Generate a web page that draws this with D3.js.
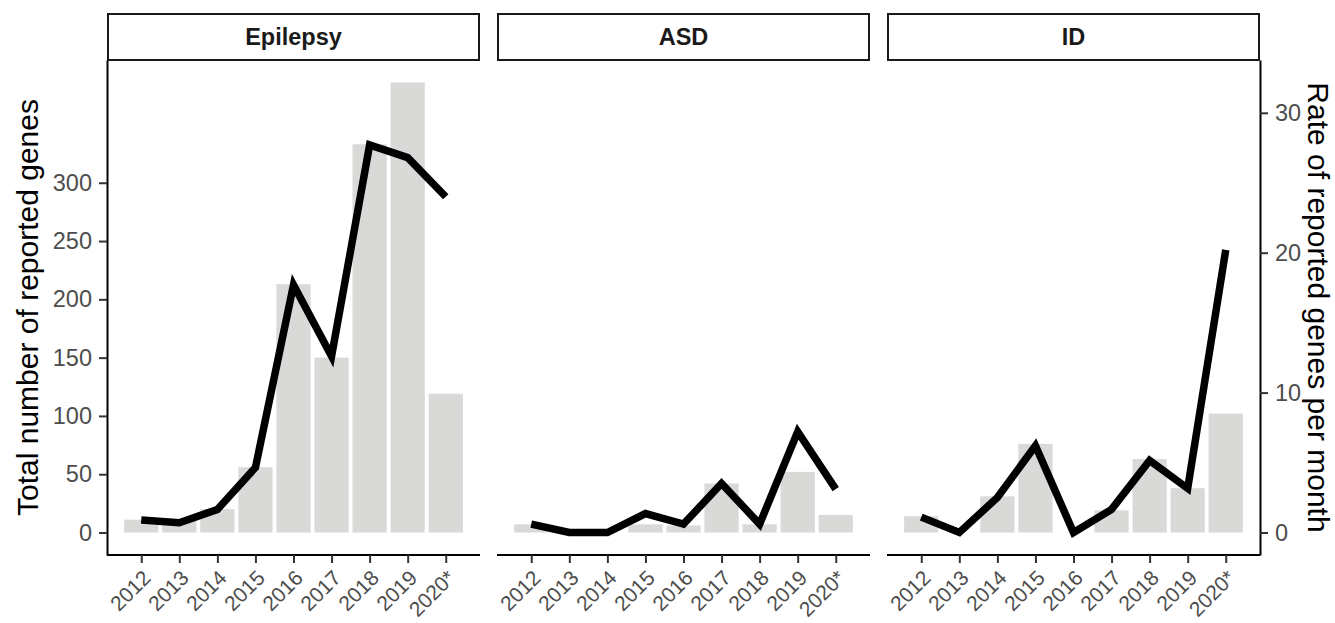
<!DOCTYPE html>
<html>
<head>
<meta charset="utf-8">
<script src="https://cdn.jsdelivr.net/npm/d3@7"></script>
<style>
  body { margin: 0; background: #fff; }
  text { font-family: "Liberation Sans", Arial, sans-serif; }
</style>
</head>
<body>
<div id="chart"></div>
<script>
// years on the x axis (2020 is a partial year)
var years = ["2012", "2013", "2014", "2015", "2016", "2017", "2018", "2019", "2020*"];
var disorders = ["Epilepsy", "ASD", "ID"];

// total number of reported genes (bars, left axis)
var epilepsyCounts = [11, 10, 20, 56, 213, 150, 333, 386, 119];
var asdCounts = [7, 0, 0, 7, 6, 42, 7, 52, 15];
var idCounts = [14, 0, 31, 76, 0, 19, 63, 38, 102];

// rate of reported genes per month (line, right axis)
var epilepsyRates = [0.9, 0.7, 1.65, 4.65, 17.7, 12.6, 27.7, 26.8, 24.0];
var asdRates = [0.6, 0, 0, 1.35, 0.6, 3.5, 0.6, 7.2, 3.1];
var idRates = [1.1, 0, 2.5, 6.2, 0, 1.65, 5.15, 3.15, 20.2];

var leftTicks = [0, 50, 100, 150, 200, 250, 300];
var rightTicks = [0, 10, 20, 30];
var rateFactor = 12; // secondary axis = primary / 12

var counts = [epilepsyCounts, asdCounts, idCounts];
var rates = [epilepsyRates, asdRates, idRates];

var width = 1335,
    height = 623,
    panelLeft = 107,
    panelW = 373,
    panelGap = 17,
    stripTop = 14,
    panelTop = 60,
    panelBottom = 555,
    tickFont = "23.5px",
    titleFont = "30px";

var svg = d3.select("#chart").append("svg")
    .attr("width", width)
    .attr("height", height);

var maxCount = d3.max(counts, function (c) { return d3.max(c); });
var yScale = d3.scaleLinear()
    .domain([-0.05 * maxCount, maxCount * 1.05])
    .range([panelBottom, panelTop]);

var rateScale = d3.scaleLinear()
    .domain(yScale.domain().map(function (v) { return v / rateFactor; }))
    .range(yScale.range());

var xScale = d3.scalePoint()
    .domain(years)
    .range([0, panelW])
    .padding(0.9);
var barW = xScale.step() * 0.9;

var line = d3.line()
    .x(function (d, i) { return xScale(years[i]); })
    .y(function (d) { return rateScale(d); });

function styleAxis(axis) {
    axis.select(".domain").attr("stroke", "#000").attr("stroke-width", 2);
    axis.selectAll(".tick line").attr("stroke", "#333").attr("stroke-width", 2);
    axis.selectAll(".tick text").attr("fill", "#4d4d4d").style("font-size", tickFont);
}

disorders.forEach(function (name, k) {
    var x0 = panelLeft + k * (panelW + panelGap);
    var g = svg.append("g").attr("transform", "translate(" + x0 + ",0)");

    // bars
    g.selectAll(".bar")
        .data(counts[k])
        .enter().append("rect")
        .attr("class", "bar")
        .attr("x", function (d, i) { return xScale(years[i]) - barW / 2; })
        .attr("y", function (d) { return yScale(d); })
        .attr("width", barW)
        .attr("height", function (d) { return yScale(0) - yScale(d); })
        .attr("fill", "#d9d9d8");

    // rate line
    g.append("path")
        .datum(rates[k])
        .attr("d", line)
        .attr("fill", "none")
        .attr("stroke", "#000")
        .attr("stroke-width", 7.5)
        .attr("stroke-linejoin", "miter")
        .attr("stroke-linecap", "butt");

    // strip
    g.append("rect")
        .attr("x", 1)
        .attr("y", stripTop)
        .attr("width", panelW - 2)
        .attr("height", panelTop - stripTop)
        .attr("fill", "#fff")
        .attr("stroke", "#1a1a1a")
        .attr("stroke-width", 2);
    g.append("text")
        .attr("x", panelW / 2)
        .attr("y", (stripTop + panelTop) / 2)
        .attr("dy", "0.35em")
        .attr("text-anchor", "middle")
        .style("font-size", tickFont)
        .style("font-weight", "bold")
        .attr("fill", "#1a1a1a")
        .text(name);

    // bottom axis
    var xAxis = g.append("g")
        .attr("transform", "translate(0," + panelBottom + ")")
        .call(d3.axisBottom(xScale).tickSize(8).tickSizeOuter(0));
    styleAxis(xAxis);
    xAxis.select(".domain").attr("d", "M0,0H" + panelW);
    xAxis.selectAll(".tick text")
        .style("font-size", "21px")
        .attr("text-anchor", "end")
        .attr("y", 0)
        .attr("dy", "0.35em")
        .attr("transform", "translate(5,19) rotate(-45)");

    if (k === 0) {
        var yAxis = g.append("g")
            .call(d3.axisLeft(yScale).tickValues(leftTicks).tickSize(8).tickPadding(7).tickSizeOuter(0));
        styleAxis(yAxis);
    }
    if (k === disorders.length - 1) {
        var rAxis = g.append("g")
            .attr("transform", "translate(" + panelW + ",0)")
            .call(d3.axisRight(rateScale).tickValues(rightTicks).tickSize(8).tickPadding(7).tickSizeOuter(0));
        styleAxis(rAxis);
    }
});

// axis titles
var midY = (panelTop + panelBottom) / 2;
svg.append("text")
    .attr("transform", "translate(27," + midY + ") rotate(-90)")
    .attr("text-anchor", "middle")
    .attr("dy", "0.35em")
    .style("font-size", titleFont)
    .text("Total number of reported genes");

svg.append("text")
    .attr("transform", "translate(1318," + midY + ") rotate(90)")
    .attr("text-anchor", "middle")
    .attr("dy", "0.35em")
    .style("font-size", titleFont)
    .text("Rate of reported genes per month");
</script>
</body>
</html>
